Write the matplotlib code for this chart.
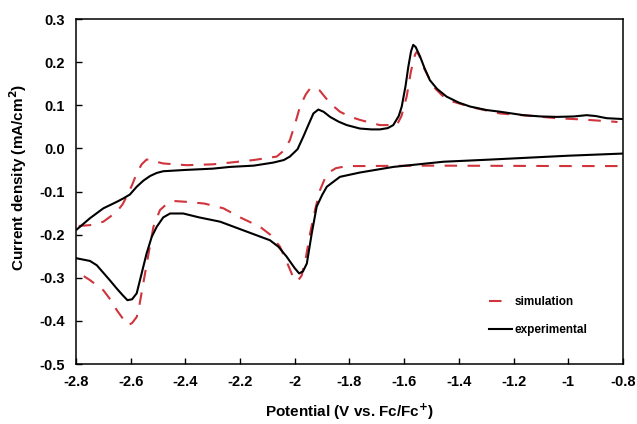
import matplotlib
matplotlib.use("Agg")
import matplotlib.pyplot as plt

plt.rcParams['font.family'] = ['Liberation Sans', 'DejaVu Sans']

# Experimental CV: forward (oxidative) branch, V increasing
exp_fwd_v = [-2.797, -2.749, -2.700, -2.651, -2.627, -2.603, -2.578, -2.554, -2.529, -2.505,
             -2.481, -2.40, -2.30, -2.237, -2.15, -2.079, -2.04, -2.018, -1.99, -1.969,
             -1.95, -1.932, -1.914, -1.895, -1.871, -1.84, -1.810, -1.762, -1.72, -1.689,
             -1.66, -1.640, -1.62, -1.609, -1.595, -1.585, -1.575, -1.567, -1.558, -1.542,
             -1.525, -1.506, -1.48, -1.445, -1.40, -1.359, -1.30, -1.250, -1.164, -1.10,
             -1.042, -0.98, -0.933, -0.90, -0.860, -0.80]
exp_fwd_i = [-0.188, -0.162, -0.139, -0.124, -0.116, -0.107, -0.089, -0.075, -0.064, -0.057,
             -0.053, -0.050, -0.047, -0.043, -0.040, -0.033, -0.027, -0.019, -0.002, 0.027,
             0.055, 0.081, 0.090, 0.085, 0.073, 0.062, 0.054, 0.046, 0.044, 0.044,
             0.047, 0.054, 0.075, 0.097, 0.145, 0.189, 0.225, 0.240, 0.235, 0.213,
             0.185, 0.158, 0.138, 0.120, 0.106, 0.097, 0.089, 0.085, 0.077, 0.074,
             0.073, 0.074, 0.077, 0.075, 0.070, 0.068]

# Experimental CV: reverse (reductive) branch, V decreasing
exp_rev_v = [-0.80, -1.00, -1.286, -1.457, -1.640, -1.762, -1.835, -1.883, -1.90, -1.920,
             -1.938, -1.956, -1.970, -1.984, -2.000, -2.030, -2.060, -2.091, -2.18, -2.273,
             -2.35, -2.408, -2.456, -2.481, -2.505, -2.523, -2.542, -2.560, -2.578, -2.595,
             -2.612, -2.630, -2.651, -2.676, -2.724, -2.749, -2.797]
exp_rev_i = [-0.012, -0.017, -0.026, -0.031, -0.043, -0.056, -0.066, -0.089, -0.108, -0.135,
             -0.197, -0.267, -0.285, -0.290, -0.278, -0.251, -0.228, -0.213, -0.192, -0.170,
             -0.160, -0.151, -0.151, -0.160, -0.182, -0.205, -0.244, -0.290, -0.336, -0.350,
             -0.352, -0.340, -0.325, -0.306, -0.271, -0.261, -0.255]

# Simulated CV: forward branch
sim_fwd_v = [-2.79, -2.749, -2.700, -2.651, -2.63, -2.615, -2.595, -2.578, -2.56, -2.542,
             -2.52, -2.50, -2.481, -2.395, -2.30, -2.237, -2.15, -2.066, -2.04, -2.018,
             -2.00, -1.981, -1.96, -1.944, -1.926, -1.91, -1.896, -1.87, -1.835, -1.80,
             -1.762, -1.72, -1.689, -1.627, -1.61, -1.591, -1.575, -1.560, -1.554, -1.545,
             -1.530, -1.493, -1.46, -1.420, -1.35, -1.250, -1.15, -1.042, -0.95, -0.835,
             -0.82]
sim_fwd_i = [-0.180, -0.178, -0.170, -0.147, -0.130, -0.112, -0.085, -0.058, -0.037, -0.026,
             -0.026, -0.032, -0.035, -0.039, -0.037, -0.033, -0.027, -0.019, -0.005, 0.019,
             0.055, 0.097, 0.125, 0.139, 0.141, 0.135, 0.124, 0.104, 0.085, 0.074,
             0.066, 0.059, 0.054, 0.054, 0.075, 0.120, 0.180, 0.218, 0.224, 0.215,
             0.189, 0.143, 0.122, 0.108, 0.095, 0.081, 0.076, 0.070, 0.067, 0.062,
             0.061]

# Simulated CV: reverse branch
sim_rev_v = [-0.82, -1.00, -1.50, -1.762, -1.810, -1.85, -1.871, -1.89, -1.908, -1.925,
             -1.944, -1.96, -1.975, -1.99, -2.005, -2.025, -2.054, -2.09, -2.127, -2.20,
             -2.261, -2.33, -2.395, -2.444, -2.47, -2.493, -2.517, -2.535, -2.554, -2.570,
             -2.578, -2.595, -2.609, -2.625, -2.651, -2.675, -2.700, -2.75, -2.797]
sim_rev_i = [-0.041, -0.041, -0.040, -0.041, -0.041, -0.046, -0.054, -0.070, -0.097, -0.140,
             -0.197, -0.255, -0.295, -0.308, -0.300, -0.270, -0.228, -0.200, -0.182, -0.160,
             -0.139, -0.128, -0.124, -0.122, -0.130, -0.143, -0.182, -0.245, -0.313, -0.370,
             -0.391, -0.405, -0.410, -0.398, -0.375, -0.350, -0.329, -0.305, -0.286]

x_ticks = [-2.8, -2.6, -2.4, -2.2, -2.0, -1.8, -1.6, -1.4, -1.2, -1.0, -0.8]
x_tick_labels = ['-2.8', '-2.6', '-2.4', '-2.2', '-2', '-1.8', '-1.6', '-1.4', '-1.2', '-1', '-0.8']
y_ticks = [-0.5, -0.4, -0.3, -0.2, -0.1, 0.0, 0.1, 0.2, 0.3]
y_tick_labels = ['-0.5', '-0.4', '-0.3', '-0.2', '-0.1', '0.0', '0.1', '0.2', '0.3']

red = '#d0343c'

fig = plt.figure(figsize=(6.37, 4.24), dpi=100)
ax = fig.add_axes([76/637, 1 - 364/424, (623-76)/637, (364-19)/424])

ax.plot(sim_fwd_v, sim_fwd_i, color=red, lw=1.5, dashes=(6, 5), label='simulation')
ax.plot(sim_rev_v, sim_rev_i, color=red, lw=1.5, dashes=(6, 5))
ax.plot(exp_fwd_v, exp_fwd_i, color='black', lw=1.5, label='experimental')
ax.plot(exp_rev_v, exp_rev_i, color='black', lw=1.5)

ax.set_xlim(-2.8, -0.8)
ax.set_ylim(-0.5, 0.3)
ax.set_xticks(x_ticks)
ax.set_xticklabels(x_tick_labels)
ax.set_yticks(y_ticks)
ax.set_yticklabels(y_tick_labels)
ax.tick_params(direction='in', length=4, width=1.0, labelsize=10.5)
ax.tick_params(axis='x', pad=8)
ax.tick_params(axis='y', pad=8)
for lab in ax.get_xticklabels() + ax.get_yticklabels():
    lab.set_fontweight('bold')
for s in ax.spines.values():
    s.set_linewidth(1.1)

ax.set_xlabel('Potential (V vs. Fc/Fc$^{\\mathbf{+}}$)', fontsize=11, fontweight='bold')
ax.xaxis.set_label_coords(0.5, -0.108)
ax.set_ylabel('Current density (mA/cm$^{\\mathbf{2}}$)', fontsize=11, fontweight='bold')
ax.yaxis.set_label_coords(-0.086, 0.54)

leg = ax.legend(loc='upper left', bbox_to_anchor=(0.735, 0.228), frameon=False,
                handlelength=2.0, handletextpad=0.2, labelspacing=1.35,
                prop={'size': 8.5, 'weight': 'bold'})

fig.savefig('out.png', dpi=100)
